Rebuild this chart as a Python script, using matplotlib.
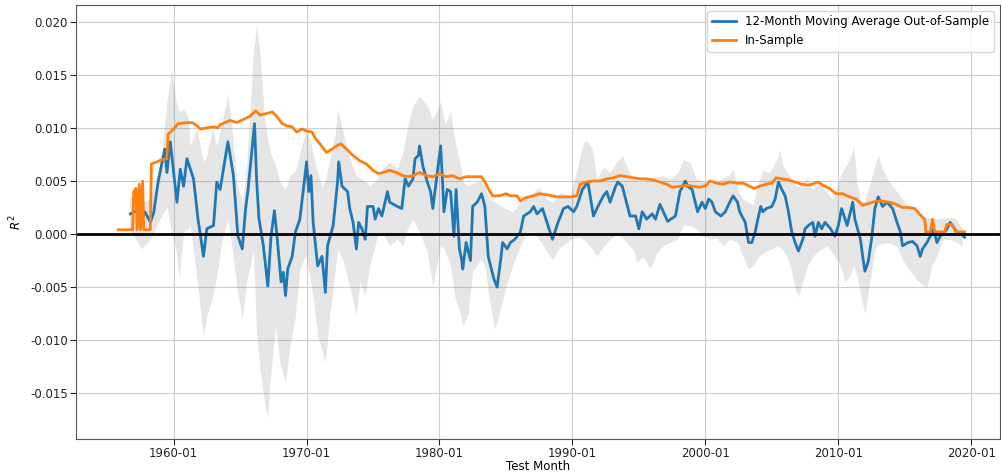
import pandas as pd
import numpy as np
import matplotlib
matplotlib.use("Agg")
import matplotlib.pyplot as plt
import matplotlib.dates as mdates

# ---- Data -------------------------------------------------------------------
# 12-month moving average out-of-sample R^2
oos_months = [
    "1956-10", "1957-04", "1957-08", "1957-11", "1958-04", "1958-07", "1958-11", "1959-05",
    "1959-07", "1959-10", "1960-01", "1960-04", "1960-07", "1960-10", "1961-01", "1961-07",
    "1961-11", "1962-04", "1962-07", "1963-01", "1963-04", "1963-07", "1964-02", "1964-07",
    "1964-11", "1965-03", "1965-06", "1965-08", "1966-02", "1966-04", "1966-06", "1966-10",
    "1967-02", "1967-05", "1967-08", "1967-10", "1968-02", "1968-04", "1968-06", "1968-08",
    "1968-12", "1969-03", "1969-07", "1970-01", "1970-03", "1970-05", "1970-07", "1970-11",
    "1971-03", "1971-06", "1971-08", "1972-01", "1972-05", "1972-06", "1972-09", "1973-02",
    "1973-04", "1973-07", "1973-10", "1973-12", "1974-03", "1974-06", "1974-08", "1975-01",
    "1975-03", "1975-06", "1975-09", "1976-02", "1976-04", "1976-11", "1977-03", "1977-06",
    "1977-09", "1978-01", "1978-03", "1978-06", "1978-07", "1978-10", "1979-02", "1979-05",
    "1979-07", "1979-11", "1980-02", "1980-04", "1980-05", "1980-08", "1980-11", "1981-02",
    "1981-04", "1981-07", "1981-09", "1981-10", "1982-01", "1982-05", "1982-07", "1982-11",
    "1983-03", "1983-06", "1983-09", "1984-02", "1984-05", "1984-08", "1984-10", "1985-02",
    "1985-05", "1985-09", "1986-02", "1986-05", "1986-11", "1987-02", "1987-05", "1987-10",
    "1988-02", "1988-07", "1988-12", "1989-05", "1989-09", "1990-02", "1990-05", "1990-10",
    "1991-03", "1991-05", "1991-08", "1991-12", "1992-05", "1992-08", "1992-11", "1993-04",
    "1993-06", "1993-10", "1994-01", "1994-05", "1994-10", "1995-01", "1995-04", "1995-08",
    "1996-01", "1996-04", "1996-08", "1996-11", "1997-03", "1997-10", "1998-02", "1998-07",
    "1998-09", "1999-01", "1999-06", "1999-10", "2000-01", "2000-04", "2000-07", "2000-10",
    "2001-03", "2001-07", "2001-11", "2002-02", "2002-06", "2002-08", "2003-01", "2003-04",
    "2003-07", "2003-10", "2004-01", "2004-03", "2004-05", "2004-08", "2005-01", "2005-04",
    "2005-07", "2005-10", "2006-01", "2006-04", "2006-07", "2006-10", "2007-01", "2007-05",
    "2007-07", "2007-10", "2008-02", "2008-04", "2008-07", "2008-10", "2009-01", "2009-06",
    "2009-10", "2010-01", "2010-04", "2010-09", "2011-02", "2011-04", "2011-09", "2011-11",
    "2012-01", "2012-04", "2012-07", "2012-10", "2013-01", "2013-05", "2013-09", "2014-02",
    "2014-06", "2014-09", "2014-11", "2015-04", "2015-08", "2015-12", "2016-03", "2016-05",
    "2016-09", "2016-12", "2017-03", "2017-06", "2017-09", "2018-02", "2018-06", "2018-08",
    "2018-12", "2019-04", "2019-07",
]
oos_r2 = [
    0.0019, 0.0022, 0.0014, 0.0021, 0.0011, 0.0020, 0.0049, 0.0080,
    0.0058, 0.0087, 0.0058, 0.0030, 0.0061, 0.0045, 0.0071, 0.0052,
    0.0014, -0.0021, 0.0005, 0.0008, 0.0049, 0.0042, 0.0087, 0.0055,
    -0.0002, -0.0014, 0.0024, 0.0040, 0.0104, 0.0050, 0.0015, -0.0011,
    -0.0049, -0.0002, 0.0022, 0.0002, -0.0045, -0.0036, -0.0058, -0.0033,
    -0.0021, 0.0002, 0.0014, 0.0068, 0.0040, 0.0055, 0.0011, -0.0030,
    -0.0021, -0.0055, -0.0011, 0.0008, 0.0049, 0.0068, 0.0045, 0.0040,
    0.0024, 0.0011, -0.0014, 0.0011, 0.0005, -0.0005, 0.0026, 0.0026,
    0.0014, 0.0024, 0.0017, 0.0040, 0.0030, 0.0026, 0.0024, 0.0052,
    0.0045, 0.0052, 0.0071, 0.0074, 0.0083, 0.0064, 0.0049, 0.0040,
    0.0024, 0.0058, 0.0083, 0.0045, 0.0021, 0.0042, 0.0040, -0.0002,
    0.0042, -0.0014, -0.0024, -0.0033, -0.0008, -0.0025, 0.0026, 0.0030,
    0.0038, 0.0026, -0.0021, -0.0042, -0.0050, -0.0026, -0.0008, -0.0014,
    -0.0008, -0.0005, 0.0002, 0.0017, 0.0021, 0.0026, 0.0019, 0.0024,
    0.0011, -0.0005, 0.0011, 0.0024, 0.0026, 0.0021, 0.0026, 0.0042,
    0.0049, 0.0036, 0.0017, 0.0026, 0.0036, 0.0040, 0.0030, 0.0045,
    0.0049, 0.0045, 0.0033, 0.0017, 0.0017, 0.0005, 0.0021, 0.0014,
    0.0019, 0.0014, 0.0028, 0.0021, 0.0012, 0.0017, 0.0040, 0.0050,
    0.0045, 0.0042, 0.0021, 0.0030, 0.0024, 0.0033, 0.0030, 0.0021,
    0.0017, 0.0021, 0.0030, 0.0036, 0.0030, 0.0021, 0.0011, -0.0008,
    -0.0008, 0.0002, 0.0017, 0.0026, 0.0021, 0.0024, 0.0026, 0.0033,
    0.0049, 0.0042, 0.0036, 0.0021, 0.0002, -0.0008, -0.0016, -0.0005,
    0.0005, 0.0008, 0.0011, -0.0002, 0.0011, 0.0005, 0.0011, 0.0005,
    -0.0002, 0.0008, 0.0024, 0.0008, 0.0030, 0.0014, -0.0005, -0.0021,
    -0.0035, -0.0026, -0.0005, 0.0024, 0.0035, 0.0026, 0.0030, 0.0024,
    0.0011, 0.0002, -0.0011, -0.0008, -0.0007, -0.0011, -0.0021, -0.0014,
    -0.0008, -0.0002, 0.0005, -0.0008, -0.0002, 0.0003, 0.0011, 0.0008,
    0.0002, 0.0000, -0.0003,
]

# in-sample R^2
ins_months = [
    "1955-11", "1956-12", "1957-01", "1957-03", "1957-04", "1957-06", "1957-07", "1957-09",
    "1957-10", "1958-04", "1958-05", "1958-10", "1959-02", "1959-07", "1959-08", "1960-01",
    "1960-05", "1961-01", "1961-06", "1961-10", "1962-01", "1962-07", "1963-01", "1963-05",
    "1963-07", "1964-04", "1964-10", "1965-04", "1965-10", "1966-03", "1966-07", "1966-11",
    "1967-06", "1967-10", "1968-03", "1968-07", "1968-12", "1969-04", "1969-09", "1970-01",
    "1970-06", "1970-09", "1971-01", "1971-07", "1971-12", "1972-04", "1972-08", "1973-01",
    "1973-07", "1974-01", "1974-07", "1975-01", "1975-06", "1975-10", "1976-04", "1976-10",
    "1977-04", "1977-09", "1978-01", "1978-07", "1979-01", "1979-07", "1980-01", "1980-07",
    "1981-01", "1981-07", "1982-01", "1982-07", "1983-03", "1983-06", "1983-10", "1984-01",
    "1984-07", "1985-01", "1985-05", "1985-11", "1986-02", "1986-06", "1987-02", "1987-07",
    "1988-02", "1988-07", "1988-11", "1989-05", "1989-11", "1990-05", "1990-08", "1991-02",
    "1991-08", "1992-02", "1992-08", "1993-02", "1993-08", "1994-02", "1994-08", "1995-02",
    "1995-08", "1996-02", "1996-08", "1997-02", "1997-07", "1998-02", "1998-08", "1999-02",
    "1999-08", "2000-02", "2000-05", "2000-11", "2001-05", "2001-11", "2002-05", "2002-11",
    "2003-05", "2003-09", "2004-02", "2004-08", "2005-01", "2005-05", "2005-10", "2006-04",
    "2006-10", "2007-04", "2007-10", "2008-04", "2008-07", "2008-11", "2009-05", "2009-11",
    "2010-05", "2010-11", "2011-05", "2011-11", "2012-05", "2012-11", "2013-05", "2013-11",
    "2014-05", "2014-11", "2015-05", "2015-10", "2016-04", "2016-07", "2016-08", "2016-12",
    "2017-02", "2017-04", "2018-01", "2018-03", "2018-08", "2018-11", "2019-07",
]
ins_r2 = [
    0.0004, 0.0004, 0.0040, 0.0043, 0.0004, 0.0047, 0.0004, 0.0050,
    0.0004, 0.0004, 0.0066, 0.0068, 0.0070, 0.0071, 0.0094, 0.0099,
    0.0104, 0.0105, 0.0105, 0.0102, 0.0099, 0.0100, 0.0101, 0.0100,
    0.0103, 0.0107, 0.0105, 0.0108, 0.0111, 0.0116, 0.0112, 0.0113,
    0.0115, 0.0111, 0.0104, 0.0102, 0.0101, 0.0096, 0.0099, 0.0097,
    0.0096, 0.0090, 0.0085, 0.0077, 0.0080, 0.0083, 0.0085, 0.0080,
    0.0074, 0.0069, 0.0066, 0.0060, 0.0057, 0.0058, 0.0060, 0.0058,
    0.0055, 0.0054, 0.0055, 0.0058, 0.0055, 0.0054, 0.0057, 0.0054,
    0.0055, 0.0052, 0.0054, 0.0054, 0.0054, 0.0049, 0.0041, 0.0036,
    0.0036, 0.0038, 0.0036, 0.0036, 0.0031, 0.0034, 0.0036, 0.0038,
    0.0037, 0.0036, 0.0035, 0.0035, 0.0035, 0.0036, 0.0047, 0.0049,
    0.0050, 0.0050, 0.0052, 0.0053, 0.0055, 0.0054, 0.0053, 0.0052,
    0.0052, 0.0051, 0.0049, 0.0047, 0.0044, 0.0045, 0.0046, 0.0045,
    0.0044, 0.0046, 0.0050, 0.0048, 0.0047, 0.0049, 0.0048, 0.0048,
    0.0045, 0.0043, 0.0045, 0.0047, 0.0048, 0.0053, 0.0052, 0.0051,
    0.0049, 0.0047, 0.0046, 0.0048, 0.0049, 0.0046, 0.0043, 0.0038,
    0.0038, 0.0035, 0.0033, 0.0027, 0.0029, 0.0031, 0.0031, 0.0030,
    0.0028, 0.0025, 0.0025, 0.0024, 0.0017, 0.0014, 0.0002, 0.0002,
    0.0014, 0.0002, 0.0002, 0.0009, 0.0009, 0.0002, 0.0002,
]

# grey band around the out-of-sample average
band_months = [
    "1956-09", "1957-03", "1957-08", "1958-04", "1958-11", "1959-03", "1959-07", "1959-11",
    "1960-03", "1960-06", "1960-10", "1961-02", "1961-04", "1961-10", "1962-04", "1962-07",
    "1962-12", "1963-04", "1963-09", "1964-02", "1964-06", "1964-10", "1965-03", "1965-07",
    "1966-01", "1966-04", "1966-07", "1966-11", "1967-02", "1967-04", "1967-09", "1968-01",
    "1968-06", "1968-10", "1969-03", "1969-07", "1969-12", "1970-04", "1970-07", "1970-11",
    "1971-03", "1971-06", "1971-10", "1972-03", "1972-05", "1972-10", "1973-04", "1973-10",
    "1974-01", "1974-06", "1974-10", "1975-05", "1975-10", "1976-04", "1976-11", "1977-04",
    "1977-08", "1978-01", "1978-07", "1979-02", "1979-07", "1980-02", "1980-06", "1980-11",
    "1981-03", "1981-08", "1981-10", "1982-03", "1982-07", "1983-02", "1983-06", "1983-10",
    "1984-03", "1984-07", "1985-01", "1985-07", "1986-02", "1986-08", "1987-02", "1987-07",
    "1988-02", "1988-07", "1989-02", "1989-11", "1990-06", "1990-11", "1991-02", "1991-07",
    "1991-11", "1992-05", "1992-11", "1993-05", "1993-10", "1994-02", "1994-08", "1994-11",
    "1995-05", "1995-11", "1996-05", "1996-11", "1997-05", "1997-12", "1998-05", "1998-11",
    "1999-05", "1999-11", "2000-05", "2000-11", "2001-05", "2001-11", "2002-02", "2002-06",
    "2002-11", "2003-04", "2003-08", "2004-01", "2004-05", "2004-11", "2005-06", "2005-08",
    "2005-11", "2006-03", "2006-07", "2006-10", "2007-01", "2007-04", "2007-09", "2008-02",
    "2008-08", "2009-03", "2009-08", "2010-03", "2010-07", "2010-11", "2011-03", "2011-06",
    "2011-10", "2012-01", "2012-05", "2012-10", "2013-01", "2013-05", "2013-11", "2014-06",
    "2014-11", "2015-06", "2015-12", "2016-05", "2016-09", "2017-02", "2017-06", "2017-11",
    "2018-06", "2018-12", "2019-05",
]
band_low = [
    0.0005, -0.0005, -0.0014, -0.0005, 0.0011, 0.0018, 0.0026, 0.0002,
    -0.0014, -0.0042, 0.0002, 0.0005, 0.0008, -0.0042, -0.0096, -0.0077,
    -0.0060, -0.0040, -0.0005, 0.0014, -0.0015, -0.0050, -0.0080, -0.0045,
    -0.0015, -0.0095, -0.0127, -0.0158, -0.0173, -0.0140, -0.0087, -0.0121,
    -0.0140, -0.0105, -0.0077, -0.0033, -0.0020, -0.0040, -0.0060, -0.0096,
    -0.0110, -0.0121, -0.0077, -0.0033, -0.0014, -0.0025, -0.0050, -0.0077,
    -0.0045, -0.0058, -0.0030, -0.0002, 0.0000, -0.0011, -0.0005, -0.0011,
    0.0005, 0.0014, 0.0002, -0.0017, -0.0049, -0.0010, -0.0015, -0.0030,
    -0.0060, -0.0075, -0.0087, -0.0075, -0.0035, -0.0024, -0.0030, -0.0061,
    -0.0090, -0.0075, -0.0050, -0.0030, -0.0011, 0.0002, 0.0002, -0.0005,
    -0.0017, -0.0024, -0.0012, -0.0005, -0.0003, -0.0005, -0.0008, -0.0014,
    -0.0021, -0.0012, -0.0005, 0.0000, -0.0003, -0.0008, -0.0015, -0.0026,
    -0.0021, -0.0033, -0.0018, -0.0011, -0.0008, -0.0005, 0.0008, 0.0008,
    0.0005, -0.0002, -0.0005, -0.0004, -0.0011, -0.0005, -0.0006, -0.0008,
    -0.0021, -0.0033, -0.0030, -0.0021, -0.0018, -0.0015, -0.0011, -0.0012,
    -0.0015, -0.0022, -0.0035, -0.0052, -0.0059, -0.0048, -0.0030, -0.0021,
    -0.0015, -0.0011, -0.0018, -0.0030, -0.0045, -0.0040, -0.0030, -0.0040,
    -0.0061, -0.0075, -0.0049, -0.0015, -0.0010, -0.0009, -0.0008, -0.0012,
    -0.0024, -0.0035, -0.0043, -0.0048, -0.0050, -0.0028, -0.0021, -0.0005,
    -0.0005, -0.0008, -0.0011,
]
band_high = [
    0.0035, 0.0035, 0.0030, 0.0033, 0.0060, 0.0083, 0.0125, 0.0154,
    0.0127, 0.0115, 0.0118, 0.0110, 0.0083, 0.0099, 0.0068, 0.0075,
    0.0099, 0.0083, 0.0108, 0.0132, 0.0096, 0.0049, 0.0030, 0.0066,
    0.0172, 0.0198, 0.0170, 0.0110, 0.0090, 0.0077, 0.0065, 0.0049,
    0.0042, 0.0055, 0.0060, 0.0077, 0.0095, 0.0090, 0.0075, 0.0058,
    0.0045, 0.0050, 0.0070, 0.0095, 0.0118, 0.0096, 0.0071, 0.0055,
    0.0053, 0.0050, 0.0045, 0.0052, 0.0062, 0.0068, 0.0062, 0.0077,
    0.0100, 0.0121, 0.0130, 0.0121, 0.0108, 0.0125, 0.0103, 0.0116,
    0.0087, 0.0065, 0.0049, 0.0045, 0.0048, 0.0050, 0.0045, 0.0033,
    0.0030, 0.0027, 0.0024, 0.0021, 0.0030, 0.0036, 0.0040, 0.0044,
    0.0033, 0.0030, 0.0039, 0.0036, 0.0064, 0.0087, 0.0088, 0.0080,
    0.0052, 0.0063, 0.0058, 0.0068, 0.0074, 0.0064, 0.0052, 0.0050,
    0.0049, 0.0052, 0.0054, 0.0055, 0.0052, 0.0058, 0.0070, 0.0068,
    0.0052, 0.0050, 0.0047, 0.0049, 0.0053, 0.0056, 0.0061, 0.0042,
    0.0033, 0.0030, 0.0027, 0.0049, 0.0060, 0.0058, 0.0071, 0.0080,
    0.0064, 0.0058, 0.0050, 0.0046, 0.0045, 0.0048, 0.0052, 0.0042,
    0.0049, 0.0039, 0.0033, 0.0055, 0.0063, 0.0070, 0.0082, 0.0048,
    0.0030, 0.0032, 0.0045, 0.0065, 0.0075, 0.0061, 0.0049, 0.0040,
    0.0033, 0.0024, 0.0021, 0.0017, 0.0016, 0.0015, 0.0014, 0.0015,
    0.0016, 0.0014, 0.0005,
]

# ---- Plot -------------------------------------------------------------------
plt.rcParams['font.family'] = ['DejaVu Sans']
plt.rcParams['font.size'] = 8.5

oos = pd.Series(oos_r2, index=pd.to_datetime(oos_months))
ins = pd.Series(ins_r2, index=pd.to_datetime(ins_months))
band_x = pd.to_datetime(band_months)

fig = plt.figure(figsize=(10.02, 4.73), dpi=100)
ax = fig.add_axes([0.076, 0.072, 0.922, 0.918])

ax.fill_between(band_x, band_low, band_high, color='grey', alpha=0.2, linewidth=0)
ax.plot(oos.index, oos.values, color='#1f77b4', lw=2,
        label='12-Month Moving Average Out-of-Sample')
ax.plot(ins.index, ins.values, color='#ff7f0e', lw=2, label='In-Sample')
ax.axhline(0, color='black', lw=2)

ax.set_xlim(pd.Timestamp('1952-09-01'), pd.Timestamp('2022-03-01'))
ax.set_ylim(-0.0193, 0.0216)
ax.set_yticks(np.arange(-0.015, 0.0201, 0.005))
ax.yaxis.set_major_formatter(plt.FormatStrFormatter('%.3f'))
ax.xaxis.set_major_locator(mdates.YearLocator(10))
ax.xaxis.set_major_formatter(mdates.DateFormatter('%Y-%m'))

ax.grid(True, color='#cccccc', lw=0.8)
ax.set_axisbelow(True)
for s in ax.spines.values():
    s.set_color('#555555')
    s.set_linewidth(0.8)
ax.tick_params(colors='#222222', length=4, pad=2)

ax.set_xlabel('Test Month', labelpad=0)
ax.set_ylabel('$R^2$')
ax.legend(loc='upper right', fontsize=8.5)

fig.savefig('out.png', dpi=100)
